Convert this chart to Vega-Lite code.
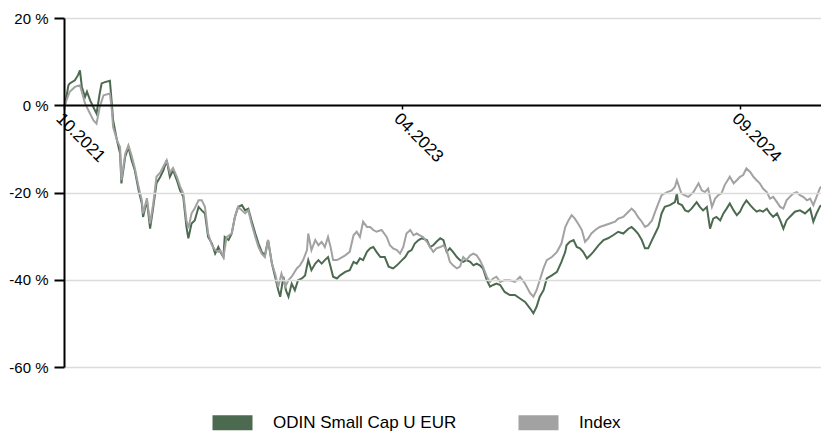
{
  "$schema": "https://vega.github.io/schema/vega-lite/v6.json",
  "width": 757,
  "height": 349,
  "autosize": {"type": "none"},
  "padding": {"left": 64, "top": 18, "right": 0, "bottom": 65},
  "background": "white",
  "config": {"view": {"stroke": null}, "font": "Liberation Sans"},
  "datasets": {
    "fund": [
      {"d":"2021-10-29","v":0},{"d":"2021-10-31","v":0.4},{"d":"2021-11-05","v":4.6},{"d":"2021-11-07","v":5.0},{"d":"2021-11-15","v":5.7},{"d":"2021-11-20","v":6.9},{"d":"2021-11-23","v":8.0},{"d":"2021-11-26","v":4.2},{"d":"2021-12-01","v":1.9},{"d":"2021-12-04","v":3.1},{"d":"2021-12-09","v":1.1},{"d":"2021-12-14","v":-0.4},{"d":"2021-12-19","v":-1.9},{"d":"2021-12-24","v":2.7},{"d":"2021-12-27","v":5.0},
      {"d":"2022-01-01","v":5.3},{"d":"2022-01-09","v":5.6},{"d":"2022-01-12","v":0.4},{"d":"2022-01-14","v":-3.4},{"d":"2022-01-20","v":-8.0},{"d":"2022-01-25","v":-11.1},{"d":"2022-01-27","v":-17.9},{"d":"2022-02-02","v":-11.8},{"d":"2022-02-07","v":-9.6},{"d":"2022-02-12","v":-12.6},{"d":"2022-02-17","v":-14.9},{"d":"2022-02-23","v":-19.5},{"d":"2022-02-28","v":-22.5},{"d":"2022-03-02","v":-25.6},{"d":"2022-03-08","v":-21.8},{"d":"2022-03-13","v":-28.3},{"d":"2022-03-18","v":-23.3},{"d":"2022-03-23","v":-17.9},{"d":"2022-03-29","v":-16.4},{"d":"2022-04-03","v":-14.9},{"d":"2022-04-08","v":-12.6},{"d":"2022-04-13","v":-16.4},{"d":"2022-04-18","v":-14.9},{"d":"2022-04-24","v":-17.2},{"d":"2022-04-29","v":-19.5},{"d":"2022-05-04","v":-21.0},{"d":"2022-05-09","v":-27.9},{"d":"2022-05-12","v":-30.5},{"d":"2022-05-17","v":-27.1},{"d":"2022-05-22","v":-26.4},{"d":"2022-05-28","v":-23.3},{"d":"2022-06-02","v":-24.1},{"d":"2022-06-07","v":-24.8},{"d":"2022-06-12","v":-30.2},{"d":"2022-06-18","v":-31.7},{"d":"2022-06-23","v":-34.0},{"d":"2022-06-28","v":-32.5},{"d":"2022-07-01","v":-33.6},{"d":"2022-07-06","v":-34.8},{"d":"2022-07-08","v":-30.2},{"d":"2022-07-14","v":-30.9},{"d":"2022-07-19","v":-29.4},{"d":"2022-07-24","v":-25.6},{"d":"2022-07-29","v":-23.3},{"d":"2022-08-04","v":-22.9},{"d":"2022-08-09","v":-24.1},{"d":"2022-08-14","v":-23.7},{"d":"2022-08-19","v":-26.4},{"d":"2022-08-25","v":-29.4},{"d":"2022-08-30","v":-31.7},{"d":"2022-09-04","v":-33.6},{"d":"2022-09-09","v":-34.4},{"d":"2022-09-14","v":-30.9},{"d":"2022-09-20","v":-36.3},{"d":"2022-09-25","v":-39.3},{"d":"2022-09-30","v":-42.4},{"d":"2022-10-03","v":-43.9},{"d":"2022-10-08","v":-39.3},{"d":"2022-10-12","v":-42.4},{"d":"2022-10-16","v":-43.9},{"d":"2022-10-21","v":-40.9},{"d":"2022-10-26","v":-42.4},{"d":"2022-10-31","v":-40.1},{"d":"2022-11-06","v":-39.7},{"d":"2022-11-11","v":-39.0},{"d":"2022-11-16","v":-35.5},{"d":"2022-11-21","v":-37.8},{"d":"2022-11-27","v":-36.3},{"d":"2022-12-02","v":-35.5},{"d":"2022-12-07","v":-36.3},{"d":"2022-12-12","v":-35.5},{"d":"2022-12-17","v":-34.8},{"d":"2022-12-21","v":-37.0},{"d":"2022-12-25","v":-39.3},{"d":"2022-12-31","v":-39.7},
      {"d":"2023-01-05","v":-39.0},{"d":"2023-01-13","v":-38.2},{"d":"2023-01-20","v":-37.8},{"d":"2023-01-26","v":-35.9},{"d":"2023-01-31","v":-36.3},{"d":"2023-02-05","v":-35.1},{"d":"2023-02-10","v":-35.5},{"d":"2023-02-16","v":-33.6},{"d":"2023-02-21","v":-32.8},{"d":"2023-02-26","v":-32.5},{"d":"2023-03-03","v":-33.6},{"d":"2023-03-09","v":-34.8},{"d":"2023-03-16","v":-34.8},{"d":"2023-03-22","v":-37.0},{"d":"2023-03-29","v":-37.4},{"d":"2023-04-04","v":-36.7},{"d":"2023-04-12","v":-35.5},{"d":"2023-04-17","v":-34.8},{"d":"2023-04-22","v":-33.6},{"d":"2023-04-27","v":-33.2},{"d":"2023-05-02","v":-31.7},{"d":"2023-05-08","v":-30.9},{"d":"2023-05-13","v":-30.5},{"d":"2023-05-21","v":-30.9},{"d":"2023-05-26","v":-32.5},{"d":"2023-05-31","v":-32.1},{"d":"2023-06-05","v":-31.3},{"d":"2023-06-11","v":-30.5},{"d":"2023-06-16","v":-30.9},{"d":"2023-06-21","v":-33.6},{"d":"2023-06-26","v":-32.8},{"d":"2023-07-01","v":-33.6},{"d":"2023-07-07","v":-34.8},{"d":"2023-07-12","v":-35.5},{"d":"2023-07-17","v":-35.9},{"d":"2023-07-22","v":-35.5},{"d":"2023-07-28","v":-35.9},{"d":"2023-08-02","v":-36.7},{"d":"2023-08-07","v":-36.3},{"d":"2023-08-12","v":-36.7},{"d":"2023-08-17","v":-37.4},{"d":"2023-08-23","v":-40.1},{"d":"2023-08-28","v":-41.6},{"d":"2023-09-02","v":-41.2},{"d":"2023-09-07","v":-40.9},{"d":"2023-09-13","v":-41.2},{"d":"2023-09-20","v":-42.8},{"d":"2023-09-28","v":-43.5},{"d":"2023-10-06","v":-43.5},{"d":"2023-10-14","v":-44.3},{"d":"2023-10-22","v":-45.1},{"d":"2023-10-30","v":-46.6},{"d":"2023-11-04","v":-47.7},{"d":"2023-11-09","v":-46.2},{"d":"2023-11-14","v":-43.9},{"d":"2023-11-20","v":-42.4},{"d":"2023-11-25","v":-39.7},{"d":"2023-12-03","v":-39.0},{"d":"2023-12-11","v":-38.2},{"d":"2023-12-18","v":-35.9},{"d":"2023-12-24","v":-33.6},{"d":"2023-12-26","v":-32.1},{"d":"2023-12-31","v":-31.3},
      {"d":"2024-01-06","v":-30.9},{"d":"2024-01-11","v":-32.5},{"d":"2024-01-16","v":-32.8},{"d":"2024-01-21","v":-33.6},{"d":"2024-01-27","v":-35.1},{"d":"2024-02-01","v":-34.4},{"d":"2024-02-06","v":-33.6},{"d":"2024-02-14","v":-32.1},{"d":"2024-02-22","v":-30.9},{"d":"2024-02-29","v":-30.5},{"d":"2024-03-08","v":-29.8},{"d":"2024-03-16","v":-29.0},{"d":"2024-03-24","v":-29.4},{"d":"2024-04-01","v":-28.3},{"d":"2024-04-06","v":-27.9},{"d":"2024-04-11","v":-28.6},{"d":"2024-04-16","v":-29.4},{"d":"2024-04-22","v":-30.9},{"d":"2024-04-27","v":-32.8},{"d":"2024-05-02","v":-32.8},{"d":"2024-05-08","v":-30.9},{"d":"2024-05-13","v":-29.4},{"d":"2024-05-18","v":-27.9},{"d":"2024-05-23","v":-24.8},{"d":"2024-05-28","v":-23.3},{"d":"2024-06-05","v":-22.9},{"d":"2024-06-13","v":-22.2},{"d":"2024-06-16","v":-20.2},{"d":"2024-06-18","v":-22.5},{"d":"2024-06-24","v":-22.9},{"d":"2024-06-29","v":-24.1},{"d":"2024-07-04","v":-24.4},{"d":"2024-07-09","v":-23.7},{"d":"2024-07-17","v":-22.2},{"d":"2024-07-22","v":-23.3},{"d":"2024-07-27","v":-24.1},{"d":"2024-08-02","v":-23.3},{"d":"2024-08-07","v":-28.3},{"d":"2024-08-12","v":-26.0},{"d":"2024-08-17","v":-25.6},{"d":"2024-08-23","v":-26.4},{"d":"2024-08-28","v":-24.8},{"d":"2024-09-02","v":-23.7},{"d":"2024-09-07","v":-22.5},{"d":"2024-09-13","v":-24.1},{"d":"2024-09-18","v":-25.2},{"d":"2024-09-23","v":-24.4},{"d":"2024-09-28","v":-22.9},{"d":"2024-10-03","v":-21.8},{"d":"2024-10-09","v":-22.9},{"d":"2024-10-14","v":-23.7},{"d":"2024-10-19","v":-24.4},{"d":"2024-10-24","v":-24.1},{"d":"2024-10-29","v":-24.4},{"d":"2024-11-04","v":-23.7},{"d":"2024-11-09","v":-24.8},{"d":"2024-11-14","v":-25.6},{"d":"2024-11-20","v":-24.8},{"d":"2024-11-25","v":-26.4},{"d":"2024-11-30","v":-28.3},{"d":"2024-12-05","v":-26.4},{"d":"2024-12-10","v":-25.6},{"d":"2024-12-18","v":-24.4},{"d":"2024-12-26","v":-24.1},
      {"d":"2025-01-03","v":-24.8},{"d":"2025-01-11","v":-23.7},{"d":"2025-01-16","v":-26.7},{"d":"2025-01-21","v":-24.8},{"d":"2025-01-26","v":-23.3},{"d":"2025-01-28","v":-22.9}
    ],
    "index": [
      {"d":"2021-10-29","v":0},{"d":"2021-10-31","v":0.4},{"d":"2021-11-07","v":3.1},{"d":"2021-11-15","v":4.2},{"d":"2021-11-23","v":4.6},{"d":"2021-12-01","v":0.4},{"d":"2021-12-06","v":-1.1},{"d":"2021-12-14","v":-3.4},{"d":"2021-12-19","v":-4.2},{"d":"2021-12-24","v":-0.4},{"d":"2021-12-30","v":2.3},
      {"d":"2022-01-09","v":2.7},{"d":"2022-01-12","v":-1.1},{"d":"2022-01-14","v":-5.0},{"d":"2022-01-20","v":-8.0},{"d":"2022-01-25","v":-9.6},{"d":"2022-01-27","v":-17.2},{"d":"2022-02-02","v":-11.1},{"d":"2022-02-07","v":-9.2},{"d":"2022-02-12","v":-11.5},{"d":"2022-02-17","v":-14.4},{"d":"2022-02-23","v":-18.7},{"d":"2022-02-28","v":-21.8},{"d":"2022-03-02","v":-24.8},{"d":"2022-03-08","v":-21.3},{"d":"2022-03-13","v":-27.1},{"d":"2022-03-18","v":-22.5},{"d":"2022-03-23","v":-16.4},{"d":"2022-03-29","v":-15.4},{"d":"2022-04-03","v":-14.0},{"d":"2022-04-08","v":-12.6},{"d":"2022-04-13","v":-15.4},{"d":"2022-04-18","v":-14.4},{"d":"2022-04-24","v":-16.4},{"d":"2022-04-29","v":-18.6},{"d":"2022-05-04","v":-20.2},{"d":"2022-05-09","v":-26.4},{"d":"2022-05-12","v":-28.2},{"d":"2022-05-17","v":-24.8},{"d":"2022-05-22","v":-23.6},{"d":"2022-05-28","v":-21.8},{"d":"2022-06-02","v":-21.8},{"d":"2022-06-07","v":-23.3},{"d":"2022-06-12","v":-29.4},{"d":"2022-06-18","v":-32.1},{"d":"2022-06-23","v":-33.2},{"d":"2022-06-28","v":-33.6},{"d":"2022-07-01","v":-33.2},{"d":"2022-07-06","v":-34.8},{"d":"2022-07-11","v":-30.2},{"d":"2022-07-19","v":-29.4},{"d":"2022-07-24","v":-25.6},{"d":"2022-07-29","v":-23.3},{"d":"2022-08-04","v":-24.1},{"d":"2022-08-09","v":-24.8},{"d":"2022-08-14","v":-24.1},{"d":"2022-08-19","v":-27.1},{"d":"2022-08-25","v":-30.2},{"d":"2022-08-30","v":-32.5},{"d":"2022-09-04","v":-34.0},{"d":"2022-09-09","v":-34.8},{"d":"2022-09-14","v":-30.9},{"d":"2022-09-20","v":-36.3},{"d":"2022-09-25","v":-38.6},{"d":"2022-09-30","v":-41.6},{"d":"2022-10-05","v":-38.6},{"d":"2022-10-11","v":-41.6},{"d":"2022-10-16","v":-40.1},{"d":"2022-10-21","v":-39.3},{"d":"2022-10-29","v":-37.4},{"d":"2022-11-03","v":-36.7},{"d":"2022-11-08","v":-35.5},{"d":"2022-11-14","v":-33.2},{"d":"2022-11-16","v":-29.4},{"d":"2022-11-21","v":-33.2},{"d":"2022-11-27","v":-30.9},{"d":"2022-12-02","v":-32.1},{"d":"2022-12-07","v":-31.3},{"d":"2022-12-12","v":-32.5},{"d":"2022-12-17","v":-30.2},{"d":"2022-12-21","v":-32.5},{"d":"2022-12-25","v":-35.5},{"d":"2022-12-31","v":-35.5},
      {"d":"2023-01-05","v":-35.1},{"d":"2023-01-13","v":-34.4},{"d":"2023-01-20","v":-33.6},{"d":"2023-01-26","v":-29.8},{"d":"2023-01-31","v":-29.0},{"d":"2023-02-05","v":-30.2},{"d":"2023-02-10","v":-26.7},{"d":"2023-02-16","v":-27.9},{"d":"2023-02-21","v":-27.9},{"d":"2023-02-26","v":-28.6},{"d":"2023-03-03","v":-29.0},{"d":"2023-03-11","v":-28.6},{"d":"2023-03-19","v":-30.2},{"d":"2023-03-24","v":-32.1},{"d":"2023-03-29","v":-32.8},{"d":"2023-04-04","v":-33.2},{"d":"2023-04-09","v":-34.0},{"d":"2023-04-14","v":-32.5},{"d":"2023-04-19","v":-29.4},{"d":"2023-04-25","v":-28.6},{"d":"2023-04-30","v":-29.8},{"d":"2023-05-05","v":-29.4},{"d":"2023-05-10","v":-29.8},{"d":"2023-05-15","v":-30.2},{"d":"2023-05-21","v":-31.3},{"d":"2023-05-26","v":-32.5},{"d":"2023-05-31","v":-33.6},{"d":"2023-06-05","v":-32.8},{"d":"2023-06-11","v":-32.5},{"d":"2023-06-16","v":-32.1},{"d":"2023-06-21","v":-33.2},{"d":"2023-06-26","v":-35.9},{"d":"2023-07-01","v":-36.7},{"d":"2023-07-07","v":-37.4},{"d":"2023-07-12","v":-37.0},{"d":"2023-07-17","v":-34.8},{"d":"2023-07-22","v":-35.5},{"d":"2023-07-28","v":-34.4},{"d":"2023-08-02","v":-34.0},{"d":"2023-08-07","v":-34.4},{"d":"2023-08-12","v":-35.5},{"d":"2023-08-17","v":-37.0},{"d":"2023-08-23","v":-39.3},{"d":"2023-08-28","v":-40.5},{"d":"2023-09-02","v":-39.7},{"d":"2023-09-07","v":-39.3},{"d":"2023-09-13","v":-40.5},{"d":"2023-09-20","v":-40.1},{"d":"2023-09-28","v":-40.1},{"d":"2023-10-06","v":-40.5},{"d":"2023-10-14","v":-39.3},{"d":"2023-10-22","v":-40.9},{"d":"2023-10-30","v":-43.1},{"d":"2023-11-04","v":-43.9},{"d":"2023-11-09","v":-42.4},{"d":"2023-11-14","v":-40.1},{"d":"2023-11-20","v":-37.3},{"d":"2023-11-25","v":-35.5},{"d":"2023-12-03","v":-34.8},{"d":"2023-12-11","v":-33.6},{"d":"2023-12-18","v":-31.7},{"d":"2023-12-24","v":-27.9},{"d":"2023-12-29","v":-26.4},
      {"d":"2024-01-03","v":-25.2},{"d":"2024-01-08","v":-26.0},{"d":"2024-01-13","v":-27.1},{"d":"2024-01-19","v":-28.6},{"d":"2024-01-24","v":-31.3},{"d":"2024-01-29","v":-30.5},{"d":"2024-02-03","v":-29.4},{"d":"2024-02-09","v":-28.6},{"d":"2024-02-16","v":-27.9},{"d":"2024-02-24","v":-27.5},{"d":"2024-03-03","v":-27.1},{"d":"2024-03-11","v":-26.7},{"d":"2024-03-16","v":-26.0},{"d":"2024-03-24","v":-25.6},{"d":"2024-04-01","v":-24.4},{"d":"2024-04-06","v":-23.7},{"d":"2024-04-11","v":-24.4},{"d":"2024-04-16","v":-25.6},{"d":"2024-04-22","v":-26.7},{"d":"2024-04-27","v":-27.9},{"d":"2024-05-02","v":-27.5},{"d":"2024-05-08","v":-26.4},{"d":"2024-05-13","v":-24.4},{"d":"2024-05-18","v":-22.5},{"d":"2024-05-23","v":-20.6},{"d":"2024-06-01","v":-19.9},{"d":"2024-06-08","v":-19.5},{"d":"2024-06-13","v":-18.7},{"d":"2024-06-16","v":-17.2},{"d":"2024-06-23","v":-20.2},{"d":"2024-06-28","v":-20.6},{"d":"2024-07-04","v":-21.0},{"d":"2024-07-12","v":-19.9},{"d":"2024-07-20","v":-17.9},{"d":"2024-07-25","v":-19.5},{"d":"2024-07-30","v":-19.9},{"d":"2024-08-04","v":-19.1},{"d":"2024-08-10","v":-23.3},{"d":"2024-08-15","v":-21.4},{"d":"2024-08-20","v":-20.6},{"d":"2024-08-25","v":-20.2},{"d":"2024-08-30","v":-18.3},{"d":"2024-09-07","v":-16.4},{"d":"2024-09-13","v":-17.9},{"d":"2024-09-18","v":-17.2},{"d":"2024-09-23","v":-16.4},{"d":"2024-09-28","v":-16.0},{"d":"2024-10-03","v":-14.5},{"d":"2024-10-09","v":-15.3},{"d":"2024-10-14","v":-16.4},{"d":"2024-10-19","v":-17.2},{"d":"2024-10-24","v":-17.9},{"d":"2024-10-29","v":-19.1},{"d":"2024-11-04","v":-19.9},{"d":"2024-11-09","v":-21.4},{"d":"2024-11-14","v":-21.0},{"d":"2024-11-20","v":-22.2},{"d":"2024-11-25","v":-23.3},{"d":"2024-11-30","v":-23.7},{"d":"2024-12-05","v":-21.8},{"d":"2024-12-10","v":-21.0},{"d":"2024-12-16","v":-20.2},{"d":"2024-12-21","v":-19.9},{"d":"2024-12-26","v":-20.6},{"d":"2024-12-31","v":-21.0},
      {"d":"2025-01-06","v":-21.8},{"d":"2025-01-11","v":-21.4},{"d":"2025-01-16","v":-22.9},{"d":"2025-01-21","v":-21.0},{"d":"2025-01-26","v":-19.1},{"d":"2025-01-28","v":-18.6}
    ]
  },
  "encoding": {
    "x": {
      "field": "d",
      "type": "temporal",
      "scale": {"type": "utc", "domain": [{"year": 2021, "month": 10, "date": 29, "utc": true}, {"year": 2025, "month": 1, "date": 28, "utc": true}]},
      "axis": {
        "title": null,
        "values": [{"year": 2021, "month": 10, "date": 29, "utc": true}, {"year": 2023, "month": 4, "date": 12, "utc": true}, {"year": 2024, "month": 9, "date": 23, "utc": true}],
        "labelExpr": "utcFormat(datum.value, '%m.%Y')",
        "labelAngle": 45,
        "labelAlign": "left",
        "labelBaseline": "top",
        "labelPadding": 1,
        "labelFontSize": 17,
        "labelColor": "black",
        "labelFont": "Liberation Sans",
        "labelOverlap": false,
        "offset": -262,
        "domainColor": "black",
        "domainWidth": 2,
        "tickColor": "black",
        "tickSize": 4,
        "tickWidth": 1.5,
        "grid": false,
        "zindex": 1
      }
    },
    "y": {
      "field": "v",
      "type": "quantitative",
      "scale": {"domain": [-60, 20], "nice": false, "zero": false},
      "axis": {
        "title": null,
        "values": [-60, -40, -20, 0, 20],
        "labelExpr": "datum.value + ' %'",
        "labelFontSize": 15,
        "labelColor": "black",
        "labelFont": "Liberation Sans",
        "labelPadding": 6,
        "grid": true,
        "gridColor": "#dcdcdc",
        "gridWidth": 1.5,
        "domainColor": "black",
        "domainWidth": 2,
        "tickColor": "black",
        "tickSize": 10,
        "tickWidth": 2,
        "zindex": 1
      }
    }
  },
  "layer": [
    {
      "data": {"name": "fund"},
      "mark": {"type": "line", "strokeWidth": 2},
      "encoding": {
        "color": {
          "datum": "ODIN Small Cap U EUR",
          "type": "nominal",
          "scale": {"domain": ["ODIN Small Cap U EUR", "Index"], "range": ["#4c6a50", "#a2a2a2"]},
          "legend": {
            "orient": "none",
            "legendX": 141,
            "legendY": 377,
            "direction": "horizontal",
            "title": null,
            "symbolType": "stroke",
            "symbolSize": 1600,
            "symbolStrokeWidth": 15,
            "labelFontSize": 17,
            "labelFont": "Liberation Sans",
            "labelColor": "black",
            "labelOffset": 13,
            "labelLimit": 400,
            "columnPadding": 31
          }
        }
      }
    },
    {
      "data": {"name": "index"},
      "mark": {"type": "line", "strokeWidth": 2},
      "encoding": {
        "color": {"datum": "Index", "type": "nominal"}
      }
    }
  ]
}
